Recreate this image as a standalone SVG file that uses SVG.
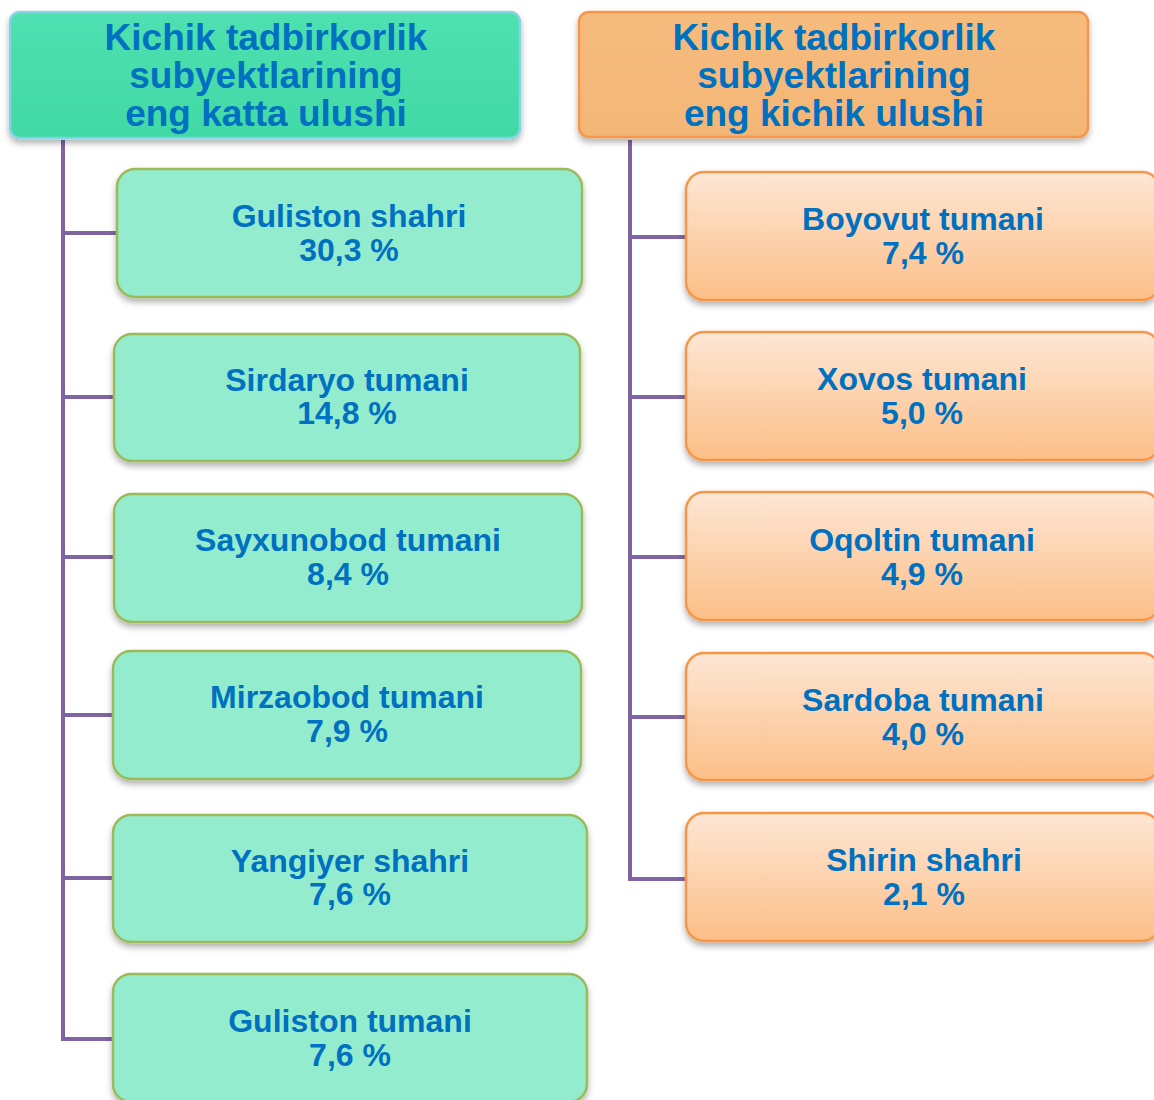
<svg xmlns="http://www.w3.org/2000/svg" width="1154" height="1100" viewBox="0 0 1154 1100">
<defs>
<linearGradient id="og" x1="0" y1="0" x2="0" y2="1">
<stop offset="0" stop-color="#fde6d4"/>
<stop offset="1" stop-color="#fcbf88"/>
</linearGradient>
<linearGradient id="hg" x1="0" y1="0" x2="0" y2="1">
<stop offset="0" stop-color="#4fe0b0"/>
<stop offset="1" stop-color="#41d9a6"/>
</linearGradient>
<linearGradient id="ho" x1="0" y1="0" x2="0" y2="1">
<stop offset="0" stop-color="#f5bc7e"/>
<stop offset="1" stop-color="#f3b676"/>
</linearGradient>
<filter id="sh" x="-10%" y="-10%" width="120%" height="130%">
<feDropShadow dx="0" dy="4" stdDeviation="3" flood-color="#000" flood-opacity="0.3"/>
</filter>
</defs>
<style>
.t{font-family:"Liberation Sans",Arial,sans-serif;font-weight:bold;fill:#0070c0;text-anchor:middle}
.h{font-size:37px}
.b{font-size:32px}
.g{fill:#94ecce;stroke:#9bbb59;stroke-width:2.5}
.o{fill:url(#og);stroke:#f79646;stroke-width:2.5}
.c{fill:none;stroke:#8064a2;stroke-width:4}
</style>
<rect width="1154" height="1100" fill="#fff"/>
<g id="connectors">
<path class="c" d="M63 140V1039H115M63 233H117M63 397H114M63 557H114M63 715H113M63 878H113"/>
<path class="c" d="M630 140V879H686M630 237H686M630 397H686M630 557H686M630 717H686"/>
</g>
<g id="header-left">
<rect x="10" y="12" width="510" height="126" rx="10" fill="url(#hg)" stroke="#86d3e3" stroke-width="2.5" filter="url(#sh)"/>
<text class="t h" x="266" y="50">Kichik tadbirkorlik</text>
<text class="t h" x="266" y="88">subyektlarining</text>
<text class="t h" x="266" y="126">eng katta ulushi</text>
</g>
<g id="header-right">
<rect x="579" y="12" width="509" height="125" rx="10" fill="url(#ho)" stroke="#f79646" stroke-width="2.5" filter="url(#sh)"/>
<text class="t h" x="834" y="50">Kichik tadbirkorlik</text>
<text class="t h" x="834" y="88">subyektlarining</text>
<text class="t h" x="834" y="126">eng kichik ulushi</text>
</g>
<g id="n-guliston-shahri">
<rect class="g" x="117" y="169" width="465" height="128" rx="18" filter="url(#sh)"/>
<text class="t b" x="349" y="227">Guliston shahri</text>
<text class="t b" x="349" y="261">30,3 %</text>
</g>
<g id="n-sirdaryo">
<rect class="g" x="114" y="334" width="466" height="127" rx="18" filter="url(#sh)"/>
<text class="t b" x="347" y="391">Sirdaryo tumani</text>
<text class="t b" x="347" y="424">14,8 %</text>
</g>
<g id="n-sayxunobod">
<rect class="g" x="114" y="494" width="468" height="128" rx="18" filter="url(#sh)"/>
<text class="t b" x="348" y="551">Sayxunobod tumani</text>
<text class="t b" x="348" y="585">8,4 %</text>
</g>
<g id="n-mirzaobod">
<rect class="g" x="113" y="651" width="468" height="128" rx="18" filter="url(#sh)"/>
<text class="t b" x="347" y="708">Mirzaobod tumani</text>
<text class="t b" x="347" y="742">7,9 %</text>
</g>
<g id="n-yangiyer">
<rect class="g" x="113" y="815" width="474" height="127" rx="18" filter="url(#sh)"/>
<text class="t b" x="350" y="872">Yangiyer shahri</text>
<text class="t b" x="350" y="905">7,6 %</text>
</g>
<g id="n-guliston-tumani">
<rect class="g" x="113" y="974" width="474" height="128" rx="18" filter="url(#sh)"/>
<text class="t b" x="350" y="1032">Guliston tumani</text>
<text class="t b" x="350" y="1066">7,6 %</text>
</g>
<g id="n-boyovut">
<rect class="o" x="686" y="172" width="474" height="128" rx="18" filter="url(#sh)"/>
<text class="t b" x="923" y="230">Boyovut tumani</text>
<text class="t b" x="923" y="264">7,4 %</text>
</g>
<g id="n-xovos">
<rect class="o" x="686" y="332" width="474" height="128" rx="18" filter="url(#sh)"/>
<text class="t b" x="922" y="390">Xovos tumani</text>
<text class="t b" x="922" y="424">5,0 %</text>
</g>
<g id="n-oqoltin">
<rect class="o" x="686" y="492" width="474" height="128" rx="18" filter="url(#sh)"/>
<text class="t b" x="922" y="551">Oqoltin tumani</text>
<text class="t b" x="922" y="585">4,9 %</text>
</g>
<g id="n-sardoba">
<rect class="o" x="686" y="653" width="474" height="127" rx="18" filter="url(#sh)"/>
<text class="t b" x="923" y="711">Sardoba tumani</text>
<text class="t b" x="923" y="745">4,0 %</text>
</g>
<g id="n-shirin">
<rect class="o" x="686" y="813" width="474" height="128" rx="18" filter="url(#sh)"/>
<text class="t b" x="924" y="871">Shirin shahri</text>
<text class="t b" x="924" y="905">2,1 %</text>
</g>
</svg>
